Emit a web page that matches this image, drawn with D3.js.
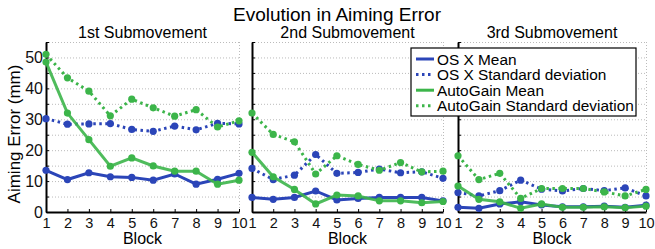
<!DOCTYPE html>
<html>
<head>
<meta charset="utf-8">
<script src="https://cdn.jsdelivr.net/npm/d3@7"></script>
<style>
  body { margin: 0; background: #fff; }
  svg { font-family: "Liberation Sans", Arial, sans-serif; }
</style>
</head>
<body>
<svg id="chart" width="655" height="249"></svg>
<script>
// ─── Data ──────────────────────────────────────────────────────────────
const blocks = [1, 2, 3, 4, 5, 6, 7, 8, 9, 10];
const panelTitles = ["1st Submovement", "2nd Submovement", "3rd Submovement"];
const seriesNames = ["OS X Mean", "OS X Standard deviation", "AutoGain Mean", "AutoGain Standard deviation"];
const yTicks = [0, 10, 20, 30, 40, 50];

// per panel: [1st, 2nd, 3rd]
const osxMean = [
  [13.5, 10.5, 12.7, 11.4, 11.2, 10.3, 12.3, 9.0, 10.6, 12.5],
  [4.7, 4.1, 4.7, 6.8, 3.9, 4.4, 4.7, 4.7, 4.7, 3.6],
  [1.5, 1.2, 2.6, 3.3, 2.3, 1.7, 1.7, 1.9, 1.5, 2.2]
];
const osxStd = [
  [30.2, 28.4, 28.5, 28.6, 26.7, 26.1, 27.8, 26.6, 28.7, 28.5],
  [14.1, 10.5, 11.9, 18.6, 12.5, 12.8, 13.9, 12.7, 13.0, 10.9],
  [6.3, 5.2, 6.9, 10.3, 7.4, 6.8, 7.6, 6.9, 7.8, 5.2]
];
const agMean = [
  [48.5, 32.0, 23.4, 14.8, 17.5, 14.9, 13.2, 13.2, 9.0, 10.3],
  [19.3, 11.4, 7.3, 2.6, 5.5, 5.2, 3.6, 3.6, 3.0, 3.4],
  [8.4, 4.1, 3.3, 1.2, 2.6, 1.5, 1.5, 1.7, 1.4, 1.9]
];
const agStd = [
  [51.0, 43.4, 39.1, 31.1, 36.5, 33.7, 31.0, 33.1, 27.5, 29.5],
  [32.0, 25.1, 22.7, 12.3, 18.2, 15.4, 13.5, 16.0, 13.0, 13.2],
  [18.2, 10.5, 12.5, 4.4, 7.6, 7.6, 7.6, 6.5, 5.2, 7.3]
];

// ─── Layout ────────────────────────────────────────────────────────────
const BLUE = "#2b45b8", GREEN = "#3cb54a";
const panelX = [[46, 239], [252, 443], [458, 646]];
const plotTop = 42, plotBottom = 212;
const svg = d3.select("#chart");

const y = d3.scaleLinear().domain([0, 55]).range([plotBottom, plotTop]);

const styles = [
  { data: osxMean, color: BLUE, dash: null },
  { data: osxStd, color: BLUE, dash: "2.5,3.5" },
  { data: agMean, color: GREEN, dash: null },
  { data: agStd, color: GREEN, dash: "2.5,3.5" }
];

svg.append("text")
  .attr("x", 337).attr("y", 21)
  .attr("text-anchor", "middle")
  .attr("font-size", 19)
  .text("Evolution in Aiming Error");

svg.append("text")
  .attr("transform", `translate(20,134) rotate(-90)`)
  .attr("text-anchor", "middle")
  .attr("font-size", 17)
  .text("Aiming Error (mm)");

panelX.forEach(([x0, x1], p) => {
  const x = d3.scaleLinear().domain([1, 10]).range([x0, x1]);
  const g = svg.append("g");

  // grid (dotted, every 5)
  g.selectAll(".grid")
    .data(d3.range(5, 56, 5))
    .join("line")
    .attr("x1", x0).attr("x2", x1)
    .attr("y1", d => y(d) + 0.5).attr("y2", d => y(d) + 0.5)
    .attr("stroke", "#aaa").attr("stroke-width", 0.8)
    .attr("stroke-dasharray", "1,2");
  g.append("line")
    .attr("x1", x1 + 0.5).attr("x2", x1 + 0.5)
    .attr("y1", plotTop).attr("y2", plotBottom)
    .attr("stroke", "#aaa").attr("stroke-width", 0.8)
    .attr("stroke-dasharray", "1,2");

  // axes
  const yAxis = d3.axisLeft(y).tickValues(d3.range(0, 56, 5)).tickSizeInner(-3).tickSizeOuter(0)
    .tickFormat(d => (p === 0 && yTicks.includes(d)) ? d : "");
  const ya = g.append("g").attr("transform", `translate(${x0},0)`).call(yAxis);
  ya.select(".domain").attr("stroke-width", 2);
  ya.selectAll("text").attr("font-size", 16).attr("font-family", "Liberation Sans, Arial, sans-serif")
    .attr("x", -3).attr("fill", "#111");

  const xAxis = d3.axisBottom(x).tickValues(blocks).tickSizeInner(-3).tickSizeOuter(0);
  const xa = g.append("g").attr("transform", `translate(0,${plotBottom})`).call(xAxis);
  xa.select(".domain").attr("stroke-width", 2);
  xa.selectAll("text").attr("font-size", 14.5).attr("font-family", "Liberation Sans, Arial, sans-serif")
    .attr("y", 6).attr("fill", "#111");

  g.append("text")
    .attr("x", (x0 + x1) / 2).attr("y", 244)
    .attr("text-anchor", "middle").attr("font-size", 16)
    .text("Block");

  g.append("text")
    .attr("x", (x0 + x1) / 2).attr("y", 38)
    .attr("text-anchor", "middle").attr("font-size", 16)
    .text(panelTitles[p]);

  // series
  const line = d3.line().x((d, i) => x(blocks[i])).y(d => y(d));
  styles.forEach(s => {
    const vals = s.data[p];
    g.append("path")
      .attr("d", line(vals))
      .attr("fill", "none")
      .attr("stroke", s.color)
      .attr("stroke-width", 3)
      .attr("stroke-dasharray", s.dash)
      .attr("opacity", s.color === GREEN && !s.dash ? 0.9 : 1);
    g.selectAll(null)
      .data(vals)
      .join("circle")
      .attr("cx", (d, i) => x(blocks[i]))
      .attr("cy", d => y(d))
      .attr("r", 3.6)
      .attr("fill", s.color);
  });
});

// ─── Legend ───────────────────────────────────────────────────────────
const lg = svg.append("g").attr("transform", "translate(411,48)");
lg.append("rect")
  .attr("width", 225).attr("height", 68)
  .attr("fill", "#fff").attr("stroke", "#000").attr("stroke-width", 1.2);
seriesNames.forEach((name, i) => {
  const cy = 11 + i * 15.6;
  lg.append("line")
    .attr("x1", 5).attr("x2", 23)
    .attr("y1", cy).attr("y2", cy)
    .attr("stroke", styles[i].color).attr("stroke-width", 3)
    .attr("stroke-dasharray", styles[i].dash);
  lg.append("text")
    .attr("x", 26).attr("y", cy + 5.5)
    .attr("font-size", 15.4)
    .text(name);
});
</script>
</body>
</html>
